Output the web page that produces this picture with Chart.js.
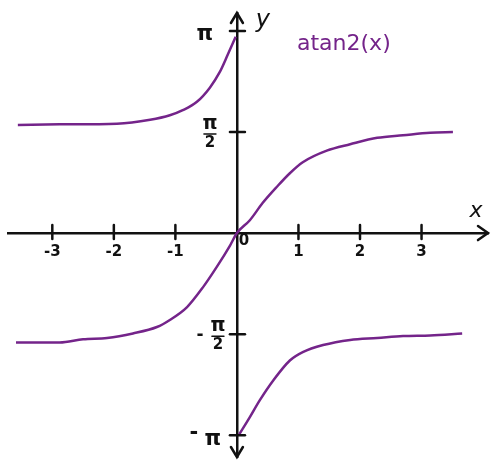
<!DOCTYPE html>
<html><head><meta charset="utf-8">
<script src="https://cdn.jsdelivr.net/npm/chart.js@4/dist/chart.umd.min.js"></script>
<style>html,body{margin:0;padding:0;background:#fff}#wrap{width:500px;height:469px}</style>
</head><body><div id="wrap"><canvas id="c" width="500" height="469"></canvas></div>
<script>
const PI = Math.PI;
const xTicks = [-3, -2, -1, 0, 1, 2, 3];
const xTickLabels = ['-3', '-2', '-1', '0', '1', '2', '3'];
const yTicks = [-PI, -PI / 2, PI / 2, PI];
const yTickLabels = ['-π', '-π/2', 'π/2', 'π'];
const titleText = 'atan2(x)';

// upper-left branch (x < 0, rising from π/2 to π)
const upperLeftX = [-3.56, -2.88, -1.95, -1.41, -1.09, -0.88, -0.65, -0.44, -0.28, -0.15, -0.02];
const upperLeftY = [1.68, 1.69, 1.70, 1.76, 1.83, 1.91, 2.04, 2.26, 2.50, 2.77, 3.05];
// middle branch (through the origin)
const middleX = [-3.59, -2.88, -2.50, -2.11, -1.69, -1.30, -1.09, -0.81, -0.55, -0.33, -0.11, 0, 0.21, 0.42, 0.65, 0.86, 1.07, 1.46, 1.84, 2.28, 2.70, 3.14, 3.51];
const middleY = [-1.70, -1.70, -1.65, -1.63, -1.56, -1.46, -1.35, -1.15, -0.84, -0.53, -0.19, 0, 0.20, 0.47, 0.72, 0.93, 1.10, 1.28, 1.38, 1.48, 1.52, 1.56, 1.57];
// lower-right branch (x > 0, rising from -π to -π/2)
const lowerRightX = [0.03, 0.21, 0.37, 0.59, 0.86, 1.07, 1.40, 1.84, 2.28, 2.70, 3.14, 3.66];
const lowerRightY = [-3.14, -2.86, -2.60, -2.29, -1.98, -1.85, -1.74, -1.66, -1.63, -1.60, -1.59, -1.56];

const PURPLE = '#74248a';
const INK = '#111';
const toPts = (xs, ys) => xs.map((x, i) => ({x: x, y: ys[i]}));
const lineDs = (xs, ys) => ({
  data: toPts(xs, ys), showLine: true, borderColor: PURPLE, borderWidth: 2.5,
  pointRadius: 0, cubicInterpolationMode: 'monotone', fill: false
});

const handPlugin = {
  id: 'hand',
  afterDraw(chart) {
    const ctx = chart.ctx, xs = chart.scales.x, ys = chart.scales.y, a = chart.chartArea;
    const x0 = xs.getPixelForValue(0), y0 = ys.getPixelForValue(0);
    ctx.save();
    ctx.strokeStyle = INK; ctx.lineWidth = 2.5; ctx.lineCap = 'round';
    // tick marks crossing the axes
    xTicks.forEach(v => { if (v === 0) return; const p = xs.getPixelForValue(v);
      ctx.beginPath(); ctx.moveTo(p, y0 - 8); ctx.lineTo(p, y0 + 6); ctx.stroke(); });
    yTicks.forEach(v => { const p = ys.getPixelForValue(v);
      ctx.beginPath(); ctx.moveTo(x0 - 7, p); ctx.lineTo(x0 + 8, p); ctx.stroke(); });
    // arrow heads
    ctx.beginPath();
    ctx.moveTo(x0 - 6, a.top + 10); ctx.lineTo(x0, a.top); ctx.lineTo(x0 + 6, a.top + 10);
    ctx.moveTo(x0 - 6, a.bottom - 10); ctx.lineTo(x0, a.bottom); ctx.lineTo(x0 + 6, a.bottom - 10);
    ctx.moveTo(a.right - 10, y0 - 7); ctx.lineTo(a.right, y0); ctx.lineTo(a.right - 10, y0 + 7);
    ctx.stroke();
    // y tick labels
    ctx.fillStyle = INK; ctx.textAlign = 'center'; ctx.textBaseline = 'middle';
    yTicks.forEach((v, i) => {
      const p = ys.getPixelForValue(v); const lab = yTickLabels[i];
      const neg = lab[0] === '-'; const body = neg ? lab.slice(1) : lab;
      if (body.indexOf('/') >= 0) {
        const [num, den] = body.split('/');
        const cx = neg ? x0 - 19 : x0 - 27;
        ctx.font = 'bold 19px "DejaVu Sans"';
        ctx.fillText(num, cx, p - 8);
        ctx.font = 'bold 15px "DejaVu Sans"';
        ctx.fillText(den, cx, p + 11);
        ctx.lineWidth = 1.5;
        ctx.beginPath(); ctx.moveTo(cx - 6, p + 2); ctx.lineTo(cx + 6, p + 2); ctx.stroke();
        if (neg) { ctx.font = 'bold 17px "DejaVu Sans"'; ctx.fillText('-', x0 - 37, p + 1); }
      } else {
        ctx.font = 'bold 21px "DejaVu Sans"';
        if (neg) { ctx.fillText('-', x0 - 43, p - 2); ctx.fillText(body, x0 - 24, p + 4); }
        else ctx.fillText(body, x0 - 32, p + 4);
      }
    });
    // origin label
    ctx.font = 'bold 15px "DejaVu Sans"';
    ctx.fillText(xTickLabels[xTicks.indexOf(0)], x0 + 7, y0 + 8);
    // axis names
    ctx.font = 'italic 24px "DejaVu Sans"';
    ctx.fillText('y', x0 + 26, a.top + 8);
    ctx.font = 'italic 22px "DejaVu Sans"';
    ctx.fillText('x', a.right - 12, y0 - 22);
    // function name
    ctx.fillStyle = PURPLE; ctx.font = '22px "DejaVu Sans"'; ctx.textAlign = 'left';
    ctx.fillText(titleText, 297, 44);
    ctx.restore();
  }
};

new Chart(document.getElementById('c'), {
  type: 'scatter',
  data: { datasets: [
    lineDs(upperLeftX, upperLeftY),
    lineDs(middleX, middleY),
    lineDs(lowerRightX, lowerRightY)
  ]},
  options: {
    responsive: false, animation: false, devicePixelRatio: 1,
    layout: { padding: { left: 8, right: 12, top: 13, bottom: 12 } },
    plugins: { legend: { display: false }, tooltip: { enabled: false }, title: { display: false } },
    scales: {
      x: {
        type: 'linear', min: -3.72, max: 4.08, position: { y: 0 },
        grid: { display: false, drawTicks: false },
        border: { display: true, color: INK, width: 2.5 },
        afterBuildTicks: s => { s.ticks = xTicks.map(v => ({value: v})); },
        ticks: { color: INK, padding: 10, maxRotation: 0, autoSkip: false,
          font: { family: 'DejaVu Sans', size: 15, weight: 'bold' },
          callback: v => v === 0 ? '' : xTickLabels[xTicks.indexOf(v)] }
      },
      y: {
        type: 'linear', min: -3.48, max: 3.42, position: { x: 0 },
        grid: { display: false, drawTicks: false },
        border: { display: true, color: INK, width: 2.5 },
        afterBuildTicks: s => { s.ticks = yTicks.map(v => ({value: v})); },
        ticks: { display: false }
      }
    }
  },
  plugins: [handPlugin]
});
</script>
</body></html>
